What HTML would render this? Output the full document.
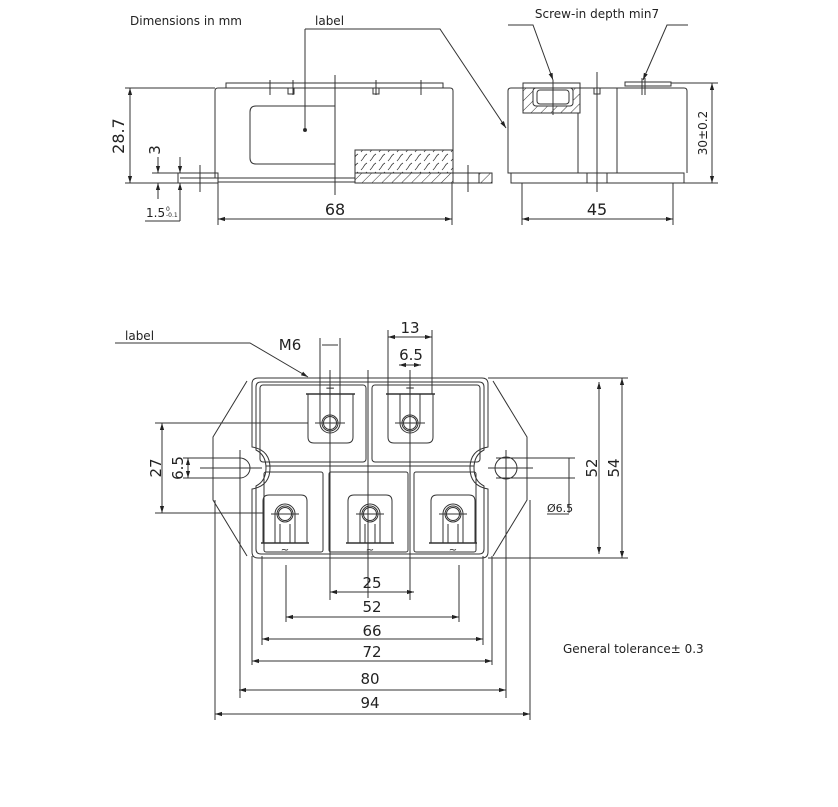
<!DOCTYPE html>
<html><head><meta charset="utf-8"><style>
html,body{margin:0;padding:0;background:#fff}
svg{display:block}
text{font-family:"DejaVu Sans","Liberation Sans",sans-serif;fill:#222}
</style></head><body>
<svg width="838" height="807" viewBox="0 0 838 807" xmlns="http://www.w3.org/2000/svg">
<defs>
<marker id="a" viewBox="0 0 10 10" refX="10" refY="5" markerWidth="7" markerHeight="7" orient="auto-start-reverse"><path d="M0,2 L10,5 L0,8 z" fill="#222"/></marker>
<pattern id="h" width="7" height="7" patternUnits="userSpaceOnUse" patternTransform="rotate(45)"><line x1="0" y1="0" x2="0" y2="7" stroke="#333" stroke-width="1"/></pattern>
<pattern id="w" width="9" height="9" patternUnits="userSpaceOnUse"><path d="M1,8 q2,-2 3,-4 q1,-2 3,-3" fill="none" stroke="#333" stroke-width="0.8"/></pattern>
</defs>
<g fill="none" stroke="#333" stroke-width="1">
<!-- ===== side view 1 ===== -->
<text x="130" y="25" font-size="12" stroke="none">Dimensions in mm</text>
<text x="315" y="25" font-size="12" stroke="none">label</text>
<polyline points="305,29 305,130"/><circle cx="305" cy="130" r="1.5" fill="#222"/>
<polyline points="305,29 440,29 506,128" marker-end="url(#a)"/>
<rect x="226" y="83" width="217" height="5"/>
<line x1="270" y1="80" x2="270" y2="95"/><line x1="293" y1="80" x2="293" y2="95"/><line x1="376" y1="80" x2="376" y2="95"/><line x1="421" y1="80" x2="421" y2="95"/>
<path d="M218,178 L215,178 L215,91 Q215,88 218,88 L450,88 Q453,88 453,91 L453,178"/>
<rect x="288" y="88" width="6" height="6"/><rect x="373" y="88" width="6" height="6"/>
<path d="M335,106 L256,106 Q250,106 250,112 L250,158 Q250,164 256,164 L335,164"/>
<line x1="335" y1="75" x2="335" y2="195"/>
<rect x="355" y="150" width="98" height="23" fill="url(#w)"/>
<rect x="355" y="173" width="98" height="10" fill="url(#h)"/>
<rect x="178" y="173" width="40" height="10"/>
<line x1="180" y1="178" x2="218" y2="178"/>
<line x1="218" y1="182" x2="355" y2="182"/><line x1="218" y1="178" x2="355" y2="178"/>
<rect x="453" y="173" width="39" height="10"/>
<rect x="479" y="173" width="13" height="10" fill="url(#h)"/>
<line x1="200" y1="165" x2="200" y2="192"/><line x1="468" y1="165" x2="468" y2="192"/>
<line x1="125" y1="88" x2="215" y2="88"/><line x1="125" y1="183" x2="218" y2="183"/>
<line x1="130" y1="88" x2="130" y2="183" marker-start="url(#a)" marker-end="url(#a)"/>
<text transform="translate(124,136) rotate(-90)" font-size="16" text-anchor="middle" stroke="none">28.7</text>
<line x1="152" y1="173" x2="178" y2="173"/>
<line x1="158" y1="157" x2="158" y2="173" marker-end="url(#a)"/>
<line x1="158" y1="199" x2="158" y2="183" marker-end="url(#a)"/>
<text transform="translate(160,150) rotate(-90)" font-size="15" text-anchor="middle" stroke="none">3</text>
<line x1="180" y1="157" x2="180" y2="173" marker-end="url(#a)"/>
<line x1="180" y1="221" x2="180" y2="183" marker-end="url(#a)"/>
<line x1="145" y1="221" x2="180" y2="221"/>
<text x="146" y="217" font-size="12" font-family="Liberation Serif" stroke="none">1.5</text>
<text x="166" y="211" font-size="6" stroke="none">0</text><text x="166" y="217" font-size="6" stroke="none">-0.1</text>
<line x1="218" y1="183" x2="218" y2="225"/><line x1="452" y1="183" x2="452" y2="225"/>
<line x1="218" y1="219" x2="452" y2="219" marker-start="url(#a)" marker-end="url(#a)"/>
<text x="335" y="215" font-size="16" text-anchor="middle" stroke="none">68</text>
<!-- ===== side view 2 ===== -->
<text x="597" y="18" font-size="12" text-anchor="middle" stroke="none">Screw-in depth min7</text>
<polyline points="508,25 533,25 553,80" marker-end="url(#a)"/>
<polyline points="688,25 667,25 643,80" marker-end="url(#a)"/>
<path d="M511,173 L508,173 L508,91 Q508,88 511,88 L684,88 Q687,88 687,91 L687,173"/>
<rect x="523" y="83" width="57" height="5"/>
<path d="M523,88 L523,113 L580,113 L580,88" fill="url(#h)"/>
<rect x="533" y="88" width="40" height="18" rx="3" fill="#fff"/>
<rect x="537" y="90" width="32" height="14" rx="3"/>
<rect x="625" y="82" width="46" height="4"/>
<line x1="642" y1="78" x2="642" y2="95"/><line x1="645" y1="78" x2="645" y2="95"/>
<line x1="553" y1="80" x2="553" y2="115"/>
<rect x="594" y="88" width="6" height="6"/>
<line x1="578" y1="113" x2="578" y2="173"/><line x1="617" y1="88" x2="617" y2="173"/>
<rect x="511" y="173" width="173" height="10"/>
<line x1="587" y1="173" x2="587" y2="183"/><line x1="607" y1="173" x2="607" y2="183"/>
<line x1="597" y1="72" x2="597" y2="192"/>
<line x1="671" y1="83" x2="718" y2="83"/><line x1="684" y1="183" x2="718" y2="183"/>
<line x1="712" y1="83" x2="712" y2="183" marker-start="url(#a)" marker-end="url(#a)"/>
<text transform="translate(707,133) rotate(-90)" font-size="12" text-anchor="middle" stroke="none">30±0.2</text>
<line x1="522" y1="183" x2="522" y2="225"/><line x1="673" y1="183" x2="673" y2="225"/>
<line x1="522" y1="219" x2="673" y2="219" marker-start="url(#a)" marker-end="url(#a)"/>
<text x="597" y="215" font-size="16" text-anchor="middle" stroke="none">45</text>
<!-- ===== top view ===== -->
<text x="125" y="340" font-size="12" stroke="none">label</text>
<polyline points="115,343 250,343 308,377" marker-end="url(#a)"/>
<text x="290" y="350" font-size="15" text-anchor="middle" stroke="none">M6</text>
<path d="M247,381 L213,437 L213,500 L247,556"/>
<path d="M493,381 L527,437 L527,500 L493,556"/>
<path d="M258,378 L482,378 Q488,378 488,384 L488,447 Q470,450 470,468 Q470,486 488,489 L488,552 Q488,558 482,558 L258,558 Q252,558 252,552 L252,489 Q270,486 270,468 Q270,450 252,447 L252,384 Q252,378 258,378 Z"/>
<path d="M261,382 L479,382 Q484,382 484,387 L484,450 Q474,455 474,468 Q474,481 484,486 L484,549 Q484,554 479,554 L261,554 Q256,554 256,549 L256,486 Q266,481 266,468 Q266,455 256,450 L256,387 Q256,382 261,382 Z"/>
<rect x="260" y="385" width="106" height="77" rx="3"/>
<rect x="372" y="385" width="108" height="77" rx="3"/>
<rect x="264" y="472" width="59" height="80" rx="2"/>
<rect x="329" y="472" width="79" height="80" rx="2"/>
<rect x="414" y="472" width="62" height="80" rx="2"/>
<line x1="266" y1="466" x2="474" y2="466"/>
<g id="t1">
<path d="M308,394 L308,437 Q308,443 314,443 L347,443 Q353,443 353,437 L353,394"/>
<line x1="306" y1="394" x2="355" y2="394" stroke-width="1.6"/>
<path d="M320,394 L320,423 A10,10 0 0 0 340,423 L340,394"/>
<circle cx="330" cy="423" r="8"/><circle cx="330" cy="423" r="6.5"/>
<line x1="315" y1="423" x2="345" y2="423"/>
</g>
<use href="#t1" x="80"/>
<text x="330" y="392" font-size="12" text-anchor="middle" stroke="none">−</text>
<text x="410" y="392" font-size="12" text-anchor="middle" stroke="none">+</text>
<g id="b1">
<path d="M263,543 L263,501 Q263,495 269,495 L301,495 Q307,495 307,501 L307,543"/>
<line x1="261" y1="543" x2="309" y2="543" stroke-width="1.6"/>
<path d="M275,543 L275,514 A10,10 0 0 1 295,514 L295,543"/>
<circle cx="285" cy="514" r="8"/><circle cx="285" cy="514" r="6.5"/>
<line x1="271" y1="514" x2="299" y2="514"/>
<line x1="280" y1="543" x2="280" y2="524"/><line x1="290" y1="543" x2="290" y2="524"/>
<text x="285" y="553" font-size="10" text-anchor="middle" stroke="none">~</text>
</g>
<use href="#b1" x="85"/>
<use href="#b1" x="168"/>
<path d="M213,458 L240,458 A10,10 0 0 1 240,478 L213,478"/>
<line x1="200" y1="468" x2="262" y2="468"/>
<circle cx="506" cy="468" r="11"/>
<line x1="488" y1="468" x2="533" y2="468"/>
<line x1="496" y1="458" x2="575" y2="458"/><line x1="496" y1="478" x2="575" y2="478"/>
<line x1="569" y1="458" x2="569" y2="513"/>
<text x="547" y="512" font-size="11" stroke="none">Ø6.5</text>
<line x1="547" y1="514" x2="569" y2="514"/>
<line x1="368" y1="370" x2="368" y2="598"/>
<line x1="330" y1="370" x2="330" y2="600"/>
<line x1="410" y1="370" x2="410" y2="600"/>
<line x1="240" y1="450" x2="240" y2="698"/>
<line x1="506" y1="450" x2="506" y2="698"/>
<line x1="215" y1="500" x2="215" y2="720"/><line x1="530" y1="500" x2="530" y2="720"/>
<line x1="252" y1="556" x2="252" y2="665"/><line x1="492" y1="556" x2="492" y2="665"/>
<line x1="262" y1="556" x2="262" y2="645"/><line x1="483" y1="556" x2="483" y2="645"/>
<line x1="286" y1="565" x2="286" y2="622"/><line x1="459" y1="565" x2="459" y2="622"/>
<line x1="330" y1="592" x2="414" y2="592" marker-start="url(#a)" marker-end="url(#a)"/>
<text x="372" y="588" font-size="15" text-anchor="middle" stroke="none">25</text>
<line x1="286" y1="617" x2="459" y2="617" marker-start="url(#a)" marker-end="url(#a)"/>
<text x="372" y="612" font-size="15" text-anchor="middle" stroke="none">52</text>
<line x1="262" y1="639" x2="483" y2="639" marker-start="url(#a)" marker-end="url(#a)"/>
<text x="372" y="636" font-size="15" text-anchor="middle" stroke="none">66</text>
<line x1="252" y1="661" x2="492" y2="661" marker-start="url(#a)" marker-end="url(#a)"/>
<text x="372" y="657" font-size="15" text-anchor="middle" stroke="none">72</text>
<line x1="239" y1="690" x2="506" y2="690" marker-start="url(#a)" marker-end="url(#a)"/>
<text x="370" y="684" font-size="15" text-anchor="middle" stroke="none">80</text>
<line x1="215" y1="714" x2="530" y2="714" marker-start="url(#a)" marker-end="url(#a)"/>
<text x="370" y="708" font-size="15" text-anchor="middle" stroke="none">94</text>
<line x1="320" y1="338" x2="320" y2="394"/><line x1="340" y1="338" x2="340" y2="394"/>
<line x1="322" y1="345" x2="338" y2="345"/>
<line x1="388" y1="330" x2="388" y2="394"/><line x1="432" y1="330" x2="432" y2="394"/>
<line x1="388" y1="337" x2="432" y2="337" marker-start="url(#a)" marker-end="url(#a)"/>
<text x="410" y="333" font-size="15" text-anchor="middle" stroke="none">13</text>
<line x1="399" y1="365" x2="421" y2="365" marker-start="url(#a)" marker-end="url(#a)"/>
<text x="411" y="360" font-size="15" text-anchor="middle" stroke="none">6.5</text>
<line x1="155" y1="423" x2="308" y2="423"/><line x1="155" y1="513" x2="263" y2="513"/>
<line x1="162" y1="423" x2="162" y2="513" marker-start="url(#a)" marker-end="url(#a)"/>
<text transform="translate(161,468) rotate(-90)" font-size="15" text-anchor="middle" stroke="none">27</text>
<line x1="183" y1="458" x2="213" y2="458"/><line x1="183" y1="478" x2="213" y2="478"/>
<line x1="188" y1="458" x2="188" y2="478" marker-start="url(#a)" marker-end="url(#a)"/>
<text transform="translate(183,468) rotate(-90)" font-size="15" text-anchor="middle" stroke="none">6.5</text>
<line x1="488" y1="378" x2="628" y2="378"/><line x1="488" y1="558" x2="628" y2="558"/>
<line x1="599" y1="382" x2="599" y2="554" marker-start="url(#a)" marker-end="url(#a)"/>
<line x1="622" y1="378" x2="622" y2="558" marker-start="url(#a)" marker-end="url(#a)"/>
<text transform="translate(597,468) rotate(-90)" font-size="15" text-anchor="middle" stroke="none">52</text>
<text transform="translate(619,468) rotate(-90)" font-size="15" text-anchor="middle" stroke="none">54</text>
<text x="563" y="653" font-size="12" stroke="none">General tolerance± 0.3</text>
</g>
</svg>
</body></html>
